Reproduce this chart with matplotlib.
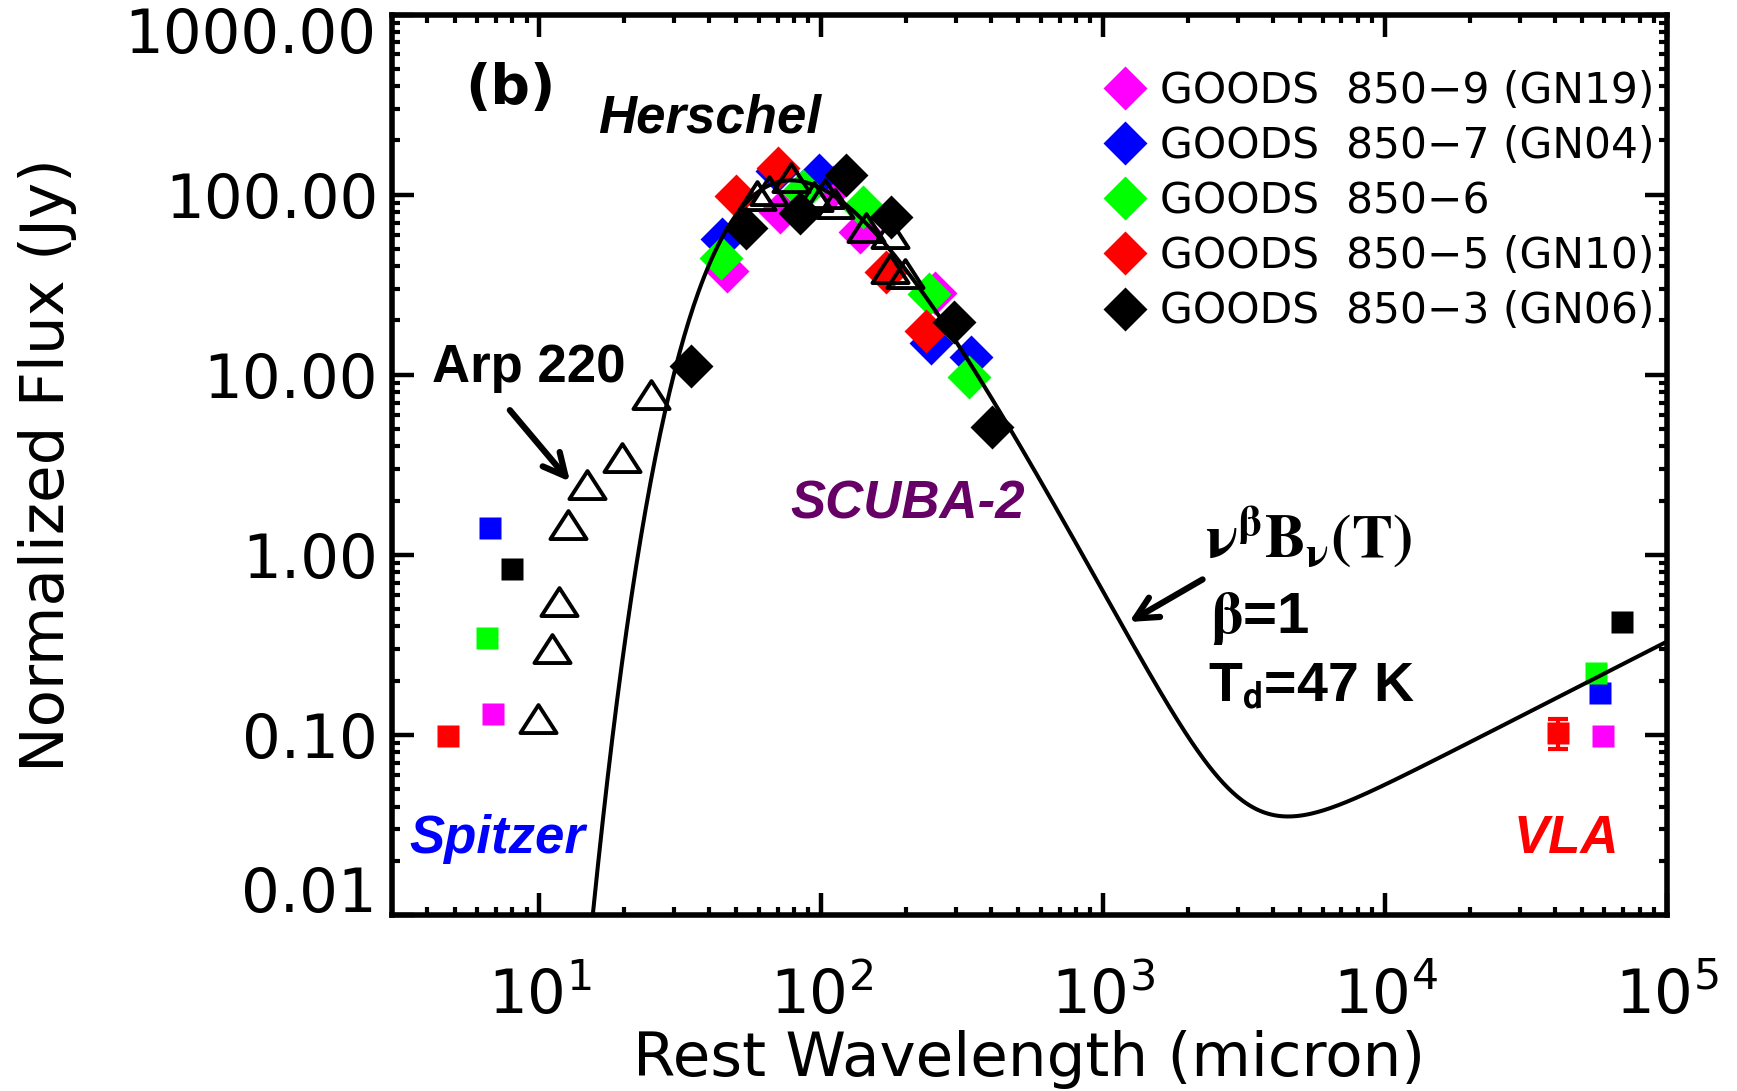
import numpy as np
import matplotlib
matplotlib.use("Agg")
from matplotlib import pyplot as plt
from matplotlib.lines import Line2D
from matplotlib.path import Path
from matplotlib.ticker import FuncFormatter, LogLocator, NullFormatter

# ---- photometry (rest wavelength [micron], normalized flux [Jy]) ----
names = ["GOODS  850\u22129 (GN19)", "GOODS  850\u22127 (GN04)", "GOODS  850\u22126",
         "GOODS  850\u22125 (GN10)", "GOODS  850\u22123 (GN06)"]
colors = ["#FF00FF", "#0000FF", "#00FF00", "#FF0000", "#000000"]

# Herschel / SCUBA-2 points
fir_wave = [
    [46.3, 71.6, 110, 137, 254],          # 850-9
    [44.4, 69.5, 98, 244, 340],           # 850-7
    [44, 86, 141, 240, 333],              # 850-6
    [49.7, 70, 170, 236],                 # 850-5
    [34.4, 54, 84, 122, 177, 296, 402],   # 850-3
]
fir_flux = [
    [37.9, 80, 110, 62, 28.5],
    [57, 136, 128, 15, 12.6],
    [44.7, 105, 85, 28, 9.7],
    [98.6, 141, 37, 17.5],
    [11.2, 65.5, 79, 129, 75, 19.6, 5.1],
]

# Spitzer 24um
mir_wave = [6.85, 6.7, 6.53, 4.75, 8.0]
mir_flux = [0.130, 1.41, 0.347, 0.098, 0.83]

# VLA 1.4GHz
radio_wave = [59300, 57800, 56100, 41000, 69000]
radio_flux = [0.099, 0.17, 0.221, 0.103, 0.425]
radio_err = [0, 0, 0, 0.02, 0]

# Arp 220 template
arp_wave = [9.85, 11.1, 11.75, 12.6, 14.7, 19.7, 24.8, 59.3, 65, 78.3, 94, 103,
            112, 143.5, 175, 175, 198]
arp_flux = [0.122, 0.30, 0.55, 1.47, 2.44, 3.43, 7.7, 98.6, 105, 124, 96.6, 100.7,
            88.7, 65.5, 60.5, 38.8, 36.3]

# modified blackbody + synchrotron
T_dust = 47.0
beta = 1.0
peak_flux = 120.0
radio_amp = 0.33      # Jy at 1e5 micron
radio_index = 0.8

lam = np.logspace(np.log10(3.0), 5, 800)
x = 14387.77 / (lam * T_dust)
bb = x ** (3 + beta) / np.expm1(x)
model = peak_flux * bb / bb.max() + radio_amp * (lam / 1e5) ** radio_index

# ======================================================================

plt.rcParams["font.family"] = "DejaVu Sans"
fig = plt.figure(figsize=(17.37, 10.91), dpi=100)
ax = fig.add_axes([0.2257, 0.1613, 0.7340, 0.8254])
ax.set_xscale("log")
ax.set_yscale("log")
ax.set_xlim(3.0, 1e5)
ax.set_ylim(0.01, 1000)

ms_d = 22.5
for i in range(len(names)):
    ax.plot(fir_wave[i], fir_flux[i], ls="none", marker="D", ms=ms_d,
            color=colors[i], mec="none", zorder=2 + i * 0.1)
    ax.plot(mir_wave[i], mir_flux[i], ls="none", marker="s", ms=15.5,
            color=colors[i], mec="none", zorder=2)
    if radio_err[i] > 0:
        ax.errorbar(radio_wave[i], radio_flux[i], yerr=radio_err[i], fmt="s", ms=15.5,
                    color=colors[i], mec="none", ecolor=colors[i], elinewidth=3,
                    capsize=7, capthick=3, zorder=2)
    else:
        ax.plot(radio_wave[i], radio_flux[i], ls="none", marker="s", ms=15.5,
                color=colors[i], mec="none", zorder=2)

ax.plot(lam, model, color="black", lw=2.9, zorder=4)

tri = Path([(0, 0.8), (-1, -0.75), (1, -0.75), (0, 0.8)],
           [Path.MOVETO, Path.LINETO, Path.LINETO, Path.CLOSEPOLY])
ax.plot(arp_wave, arp_flux, ls="none", marker=tri, ms=26, mfc="none",
        mec="black", mew=2.8, zorder=5)

# axes style
for sp in ax.spines.values():
    sp.set_linewidth(4)
ax.xaxis.set_major_locator(LogLocator(base=10, numticks=10))
ax.xaxis.set_minor_locator(LogLocator(base=10, subs=np.arange(2, 10), numticks=10))
ax.yaxis.set_major_locator(LogLocator(base=10, numticks=10))
ax.yaxis.set_minor_locator(LogLocator(base=10, subs=np.arange(2, 10), numticks=10))
# end labels are drawn inside the range by hand below
ax.yaxis.set_major_formatter(FuncFormatter(
    lambda v, p: "" if (v < 0.05 or v > 500) else "%.2f" % v))
ax.xaxis.set_minor_formatter(NullFormatter())
ax.yaxis.set_minor_formatter(NullFormatter())
ax.tick_params(which="both", direction="in", top=True, right=True)
ax.tick_params(which="major", length=16, width=3.2, labelsize=44)
ax.tick_params(which="minor", length=6, width=3)
ax.tick_params(axis="x", which="major", pad=38)
ax.tick_params(axis="y", which="major", pad=10)
for yv, ya in [(1000, 0.9756), (0.01, 0.0213)]:
    ax.text(-0.012, ya, "%.2f" % yv, transform=ax.transAxes, ha="right",
            va="center", fontsize=44)

ax.set_xlabel("Rest Wavelength (micron)", fontsize=44)
ax.set_ylabel("Normalized Flux (Jy)", fontsize=44)
ax.xaxis.set_label_coords(0.5, -0.1277)
ax.yaxis.set_label_coords(-0.247, 0.5)

# legend
handles = [Line2D([], [], ls="none", marker="D", ms=ms_d, color=c, mec="none")
           for c in colors]
ax.legend(handles, names, loc="upper left", bbox_to_anchor=(0.5584, 0.9385),
          frameon=False, fontsize=30.5, handlelength=1.0, handletextpad=0.32,
          labelspacing=0.31, borderpad=0, borderaxespad=0)

# annotations
bi = dict(family="Liberation Sans", weight="bold", style="italic", fontsize=38)
ax.text(0.0925, 0.917, "(b)", transform=ax.transAxes, ha="center", va="center",
        fontsize=40, weight="bold")
ax.text(0.249, 0.885, "Herschel", transform=ax.transAxes, ha="center", va="center",
        color="black", **bi)
ax.text(0.4047, 0.4564, "SCUBA-2", transform=ax.transAxes, ha="center", va="center",
        color="#660066", **bi)
ax.text(0.0824, 0.0844, "Spitzer", transform=ax.transAxes, ha="center", va="center",
        color="#0000FF", **bi)
ax.text(0.921, 0.0844, "VLA", transform=ax.transAxes, ha="center", va="center",
        color="#FF0000", **bi)

ax.text(0.1075, 0.6074, "Arp 220", transform=ax.transAxes, ha="center", va="center",
        family="Liberation Sans", weight="bold", fontsize=38)
ax.annotate("", xy=(0.141, 0.479), xytext=(0.091, 0.563), xycoords="axes fraction",
            arrowprops=dict(arrowstyle="->", lw=4.5, color="black", mutation_scale=40))

ax.text(0.6376, 0.4192, r"$\mathbf{\nu^{\beta}B_{\nu}(T)}$", transform=ax.transAxes,
        ha="left", va="center", fontsize=44, math_fontfamily="stix")
ax.text(0.6416, 0.3298, r"$\mathbf{\beta}$=1", transform=ax.transAxes,
        ha="left", va="center", fontsize=42, family="Liberation Sans", weight="bold",
        math_fontfamily="stix")
ax.text(0.640, 0.2532, r"T$_\mathbf{d}$=47 K", transform=ax.transAxes,
        ha="left", va="center", fontsize=40, family="Liberation Sans", weight="bold",
        math_fontfamily="stixsans")
ax.annotate("", xy=(0.5763, 0.3239), xytext=(0.6376, 0.3742), xycoords="axes fraction",
            arrowprops=dict(arrowstyle="->", lw=4.5, color="black", mutation_scale=40))

fig.savefig("out.png", dpi=100)
